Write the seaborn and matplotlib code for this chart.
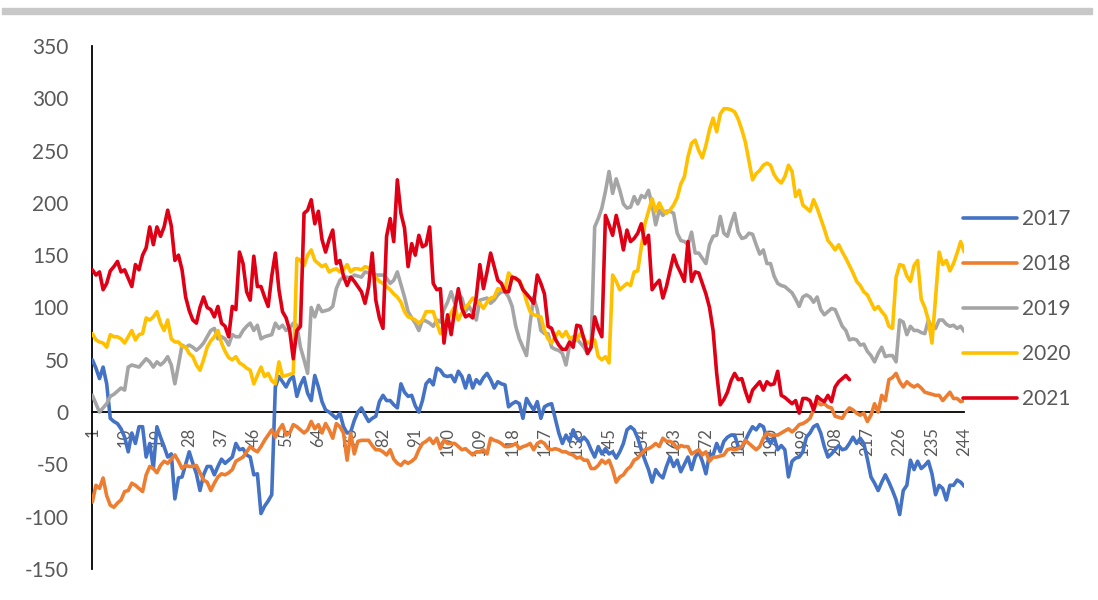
import numpy as np
import pandas as pd
import matplotlib
matplotlib.use("Agg")
import matplotlib.pyplot as plt
import seaborn as sns
from matplotlib.patches import Rectangle

# values, one list per year (index 1..n)
y2017 = [
    50, 42, 32, 43, 27, -6, -9, -11, -16, -24,
    -38, -20, -30, -14, -14, -43, -30, -54, -14, -24,
    -33, -43, -40, -83, -63, -62, -50, -38, -49, -59,
    -75, -60, -52, -52, -60, -52, -45, -49, -46, -43,
    -30, -36, -35, -41, -43, -60, -59, -97, -90, -85,
    -79, 24, 34, 29, 24, 31, 34, 15, 26, 33,
    18, 11, 35, 24, 10, 2, 0, -3, -6, -1,
    -14, -20, -19, -8, 0, 4, -3, -9, -6, -4,
    10, 16, 11, 11, 7, 4, 27, 19, 15, 16,
    6, 0, 11, 27, 31, 26, 42, 40, 35, 34,
    35, 29, 39, 34, 23, 35, 23, 31, 27, 33,
    37, 31, 23, 29, 27, 26, 5, 8, 10, 8,
    -6, 13, 7, 2, 10, -6, 5, 7, 8, -6,
    -20, -30, -22, -28, -17, -25, -28, -24, -28, -36,
    -43, -33, -40, -35, -40, -38, -44, -38, -30, -17,
    -14, -17, -25, -36, -46, -55, -67, -55, -60, -63,
    -52, -43, -52, -46, -57, -50, -43, -55, -43, -38,
    -47, -59, -40, -41, -30, -38, -28, -24, -22, -22,
    -33, -35, -27, -20, -14, -17, -12, -14, -25, -30,
    -24, -36, -32, -36, -62, -47, -44, -43, -38, -24,
    -20, -14, -12, -20, -33, -43, -40, -36, -32, -36,
    -35, -30, -24, -30, -25, -30, -45, -62, -68, -75,
    -67, -60, -67, -75, -84, -98, -75, -70, -46, -55,
    -47, -54, -51, -47, -59, -79, -70, -73, -84, -70,
    -70, -65, -67, -71,
]
y2018 = [
    -86, -70, -73, -63, -80, -89, -91, -87, -84, -76,
    -75, -68, -70, -73, -76, -60, -52, -54, -58, -51,
    -47, -49, -45, -41, -47, -54, -51, -52, -52, -51,
    -58, -65, -67, -75, -68, -62, -59, -60, -58, -55,
    -47, -45, -43, -38, -33, -36, -38, -33, -27, -22,
    -17, -24, -17, -12, -22, -20, -12, -14, -17, -20,
    -17, -9, -16, -12, -20, -11, -17, -25, -11, -14,
    -20, -46, -20, -40, -28, -27, -27, -27, -32, -36,
    -36, -38, -41, -36, -45, -49, -51, -47, -49, -47,
    -44, -36, -30, -28, -25, -30, -25, -35, -27, -30,
    -30, -30, -33, -36, -35, -38, -41, -38, -38, -36,
    -40, -25, -27, -28, -30, -33, -33, -32, -30, -35,
    -33, -32, -30, -36, -30, -28, -30, -35, -36, -35,
    -36, -38, -38, -40, -41, -44, -43, -46, -46, -54,
    -54, -51, -46, -49, -46, -55, -67, -62, -60, -55,
    -52, -46, -44, -40, -36, -35, -33, -30, -33, -25,
    -28, -28, -30, -35, -32, -33, -33, -40, -38, -36,
    -41, -38, -47, -43, -43, -42, -41, -36, -35, -36,
    -35, -33, -27, -30, -33, -36, -33, -25, -20, -22,
    -22, -22, -20, -18, -16, -19, -16, -12, -11, -9,
    -6, 2, 10, 7, 8, 5, 4, -4, -5, -6,
    0, 4, 2, -1, -3, -1, -9, -3, 8, 0,
    16, 11, 31, 33, 37, 29, 24, 29, 26, 24,
    26, 23, 19, 18, 17, 16, 16, 11, 15, 19,
    13, 13, 10, 11,
]
y2019 = [
    16, 8, 0, 4, 8, 15, 17, 20, 23, 21,
    43, 45, 44, 43, 47, 51, 48, 43, 48, 45,
    48, 53, 45, 27, 45, 64, 62, 64, 62, 59,
    62, 66, 72, 78, 80, 70, 72, 70, 64, 74,
    72, 72, 78, 82, 85, 78, 83, 70, 72, 73,
    74, 85, 80, 83, 78, 80, 85, 83, 62, 50,
    37, 100, 91, 102, 96, 97, 98, 101, 118, 126,
    129, 129, 128, 131, 130, 129, 134, 133, 134, 131,
    131, 131, 128, 123, 126, 134, 122, 110, 96, 90,
    85, 78, 88, 87, 85, 82, 88, 86, 98, 105,
    115, 104, 113, 109, 96, 101, 95, 88, 107, 108,
    109, 104, 107, 112, 115, 115, 110, 101, 82, 70,
    62, 54, 85, 110, 98, 78, 75, 75, 62, 60,
    59, 56, 45, 64, 68, 70, 66, 62, 56, 62,
    177, 185, 195, 211, 230, 209, 223, 212, 199, 195,
    196, 206, 199, 207, 205, 212, 198, 179, 193, 188,
    192, 192, 190, 171, 164, 163, 160, 172, 152, 152,
    147, 142, 160, 168, 169, 187, 171, 168, 180, 190,
    172, 166, 167, 171, 170, 160, 151, 155, 142, 142,
    130, 123, 121, 120, 117, 114, 108, 101, 110, 112,
    110, 105, 110, 98, 93, 96, 99, 98, 90, 82,
    78, 69, 70, 69, 64, 65, 58, 54, 48, 56,
    62, 53, 54, 54, 48, 88, 86, 74, 82, 78,
    78, 76, 75, 88, 80, 80, 88, 88, 84, 82,
    83, 80, 82, 77,
]
y2020 = [
    75, 69, 67, 66, 62, 74, 72, 72, 70, 66,
    72, 78, 69, 74, 75, 90, 88, 91, 96, 85,
    78, 88, 70, 67, 67, 63, 62, 56, 53, 45,
    40, 50, 62, 68, 72, 78, 66, 58, 52, 50,
    53, 47, 45, 42, 40, 27, 35, 43, 34, 37,
    30, 27, 48, 34, 35, 36, 37, 147, 145, 140,
    150, 155, 145, 142, 139, 141, 134, 136, 137, 134,
    136, 141, 134, 137, 137, 136, 139, 138, 133, 129,
    125, 123, 120, 117, 113, 110, 105, 96, 91, 90,
    88, 85, 88, 96, 96, 96, 85, 75, 85, 88,
    95, 101, 88, 95, 100, 104, 109, 106, 104, 99,
    105, 109, 110, 118, 117, 117, 133, 129, 127, 126,
    118, 106, 96, 93, 92, 91, 78, 70, 66, 72,
    77, 72, 77, 70, 72, 69, 75, 70, 66, 68,
    69, 53, 50, 53, 47, 131, 125, 117, 120, 123,
    121, 134, 135, 158, 180, 192, 204, 192, 200, 193,
    190, 193, 198, 205, 218, 225, 244, 257, 260, 250,
    243, 255, 270, 281, 268, 285, 290, 290, 289, 287,
    280, 270, 258, 240, 222, 228, 231, 236, 238, 236,
    227, 222, 219, 225, 236, 230, 206, 212, 198, 195,
    192, 203, 195, 185, 175, 164, 160, 155, 160, 153,
    147, 140, 133, 125, 121, 115, 112, 105, 98, 101,
    96, 92, 82, 80, 129, 141, 140, 130, 125, 140,
    145, 108, 100, 88, 66, 110, 153, 141, 145, 135,
    142, 152, 163, 153,
]
y2021 = [
    136, 131, 134, 117, 123, 135, 139, 144, 134, 136,
    128, 120, 141, 136, 150, 157, 177, 160, 177, 168,
    177, 193, 178, 145, 150, 136, 110, 97, 88, 85,
    100, 110, 100, 98, 91, 101, 85, 82, 72, 101,
    98, 153, 142, 115, 107, 149, 120, 120, 110, 101,
    130, 152, 117, 96, 90, 78, 51, 78, 82, 190,
    193, 203, 180, 192, 165, 153, 165, 174, 142, 145,
    130, 121, 129, 125, 120, 115, 104, 120, 152, 107,
    90, 80, 168, 185, 163, 222, 190, 176, 139, 161,
    150, 169, 158, 160, 177, 123, 117, 118, 66, 93,
    74, 98, 118, 99, 91, 93, 90, 110, 141, 118,
    134, 152, 139, 126, 123, 115, 115, 129, 128, 125,
    117, 113, 109, 104, 131, 123, 113, 82, 80, 70,
    64, 60, 60, 67, 62, 83, 82, 70, 56, 62,
    91, 80, 72, 188, 179, 169, 188, 174, 155, 174,
    163, 166, 171, 180, 161, 169, 117, 122, 126, 109,
    120, 135, 150, 140, 133, 125, 163, 125, 134, 133,
    123, 113, 100, 78, 37, 7, 12, 19, 30, 37,
    31, 32, 20, 10, 21, 25, 29, 21, 29, 26,
    27, 39, 16, 14, 11, 8, 11, -1, 13, 13,
    11, 2, 15, 12, 10, 16, 10, 24, 29, 32,
    35, 31,
]

years = ["2017", "2018", "2019", "2020", "2021"]
colors = ["#4472C4", "#ED7D31", "#A5A5A5", "#FFC000", "#E00016"]
x_ticks = list(range(1, 245, 9))
y_ticks = list(range(-150, 351, 50))

rows = []
for yr, vals in zip(years, [y2017, y2018, y2019, y2020, y2021]):
    for i, v in enumerate(vals, start=1):
        rows.append((i, v, yr))
df = pd.DataFrame(rows, columns=["day", "value", "year"])

sns.set_theme(style="white")
plt.rcParams["font.family"] = ["Lato", "DejaVu Sans"]
plt.rcParams["axes.unicode_minus"] = False

fig = plt.figure(figsize=(10.98, 6.0), dpi=100)
ax = fig.add_axes([0.0841, 0.0517, 0.7941, 0.8717])

sns.lineplot(data=df, x="day", y="value", hue="year", hue_order=years,
             palette=colors, linewidth=2.6, errorbar=None, ax=ax, zorder=3)

ax.set_xlim(1, 244)
ax.set_ylim(-150, 350)
ax.set_xticks(x_ticks)
ax.set_xticklabels([str(t) for t in x_ticks])
ax.set_yticks(y_ticks)
ax.set_xlabel("")
ax.set_ylabel("")

# category axis crosses at zero, like the Excel original
ax.spines["bottom"].set_position(("data", 0))
ax.spines["top"].set_visible(False)
ax.spines["right"].set_visible(False)
for s in ("bottom", "left"):
    ax.spines[s].set_color("black")
    ax.spines[s].set_linewidth(1.3)

ax.tick_params(axis="x", direction="in", length=6, width=1.3, color="black",
               labelsize=12, labelcolor="#595959", labelrotation=90, pad=11)
ax.tick_params(axis="y", direction="in", length=6, width=1.3, color="black",
               labelsize=15, labelcolor="#595959", pad=17)
ax.grid(False)

handles, labels = ax.get_legend_handles_labels()
leg = ax.legend(handles, labels, loc="upper left",
                bbox_to_anchor=(963 / 1098, 1 - 209 / 600),
                bbox_transform=fig.transFigure, frameon=False, fontsize=15,
                handlelength=2.6, handletextpad=0.25, labelspacing=1.2,
                borderpad=0, borderaxespad=0)
for t in leg.get_texts():
    t.set_color("#595959")
for ln in leg.get_lines():
    ln.set_linewidth(2.6)

# thin grey band along the top edge
fig.add_artist(Rectangle((2 / 1098, 1 - 14 / 600), 1090 / 1098, 6 / 600,
                         transform=fig.transFigure, color="#C8C8C8", zorder=0))

fig.savefig("out.png", dpi=100)
